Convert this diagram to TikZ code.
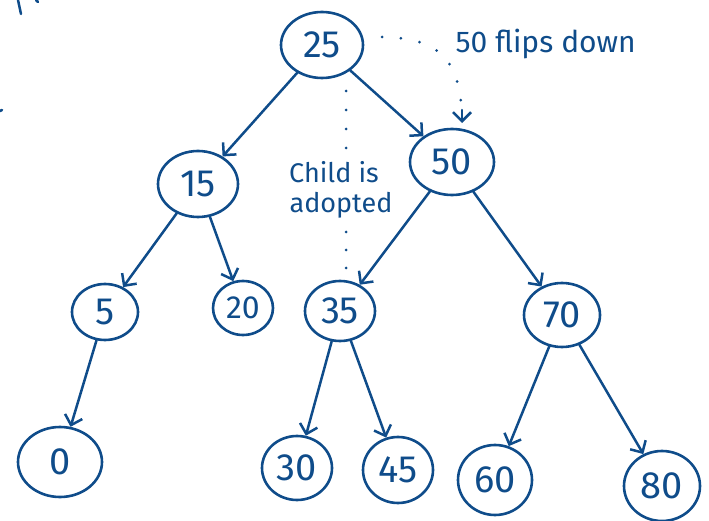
\documentclass[tikz,border=0pt]{standalone}
\usepackage{fontspec}
\setmainfont{Fira Sans}
\usetikzlibrary{arrows.meta,shapes.geometric}
\definecolor{ink}{HTML}{0F4C8A}
\tikzset{
  x=1pt, y=-1pt,
  key/.style={ellipse, draw=ink, line width=2.6pt, text=ink, inner sep=0pt,
    font=\fontsize{38}{38}\selectfont},
  arr/.style={draw=ink, line width=2.5pt, line cap=round,
    -{Straight Barb[length=9pt,width=18pt,line width=2.5pt]}},
  dotline/.style={draw=ink, line width=3pt, line cap=round,
    dash pattern=on 0pt off 19pt},
  note/.style={text=ink, align=center},
  scrap/.style={draw=ink, line width=2.5pt, line cap=round}
}
\begin{document}
\begin{tikzpicture}
\useasboundingbox (0,0) rectangle (709,521);

% keys
\node[key, minimum width=82pt, minimum height=66pt] (n25) at (322,45) {25};
\node[key, minimum width=80pt, minimum height=66pt] (n15) at (198,184) {15};
\node[key, minimum width=84pt, minimum height=66pt] (n50) at (452,162) {50};
\node[key, minimum width=66pt, minimum height=56pt] (n5)  at (105,312) {5};
\node[key, minimum width=60pt, minimum height=54pt, font=\fontsize{32}{32}\selectfont] (n20) at (243,308) {20};
\node[key, minimum width=70pt, minimum height=60pt] (n35) at (340,311) {35};
\node[key, minimum width=76pt, minimum height=64pt] (n70) at (562,315) {70};
\node[key, minimum width=84pt, minimum height=70pt] (n0)  at (60,462)  {0};
\node[key, minimum width=70pt, minimum height=64pt] (n30) at (297,468) {30};
\node[key, minimum width=70pt, minimum height=66pt] (n45) at (398,470) {45};
\node[key, minimum width=74pt, minimum height=70pt] (n60) at (495,480) {60};
\node[key, minimum width=76pt, minimum height=70pt] (n80) at (662,486) {80};

% tree edges
\draw[arr] (n25) -- (n15);
\draw[arr] (n25) -- (n50);
\draw[arr] (n15) -- (n5);
\draw[arr] (n15) -- (n20);
\draw[arr] (n50) -- (n35);
\draw[arr] (n50) -- (n70);
\draw[arr] (n5)  -- (n0);
\draw[arr] (n35) -- (n30);
\draw[arr] (n35) -- (n45);
\draw[arr] (n70) -- (n60);
\draw[arr] (n70) -- (n80);

% "50 flips down" note with dotted arrow
\node[note, anchor=west, font=\fontsize{30}{30}\selectfont] (flip) at (452,44) {50 flips down};
\coordinate (fs) at (382,37);
\coordinate (fe) at (462,123);
\draw[dotline] (fs) .. controls (440,38) and (462,60) .. (fe);
\draw[draw=ink, line width=2.5pt, line cap=round,
  -{Straight Barb[length=9pt,width=18pt,line width=2.5pt]}]
  (462,110) -- (fe);

% "Child is adopted" note with dotted guide
\node[note, font=\fontsize{27}{30}\selectfont] (adopt) at (334,190)
  {Child is\\\hspace*{14pt}adopted};
\coordinate (va) at (346,91);
\coordinate (vb) at (346,152);
\coordinate (vc) at (346,232);
\coordinate (vd) at (346,268);
\draw[dotline] (va) -- (vb);
\draw[dotline, dash pattern=on 0pt off 18pt] (vc) -- (vd);

% stray strokes along the top-left edge
\draw[scrap] (18,0) -- (21,14);
\draw[scrap] (36,0) -- (38,2);
\draw[scrap] (0,111) -- (2,110);
\end{tikzpicture}
\end{document}
